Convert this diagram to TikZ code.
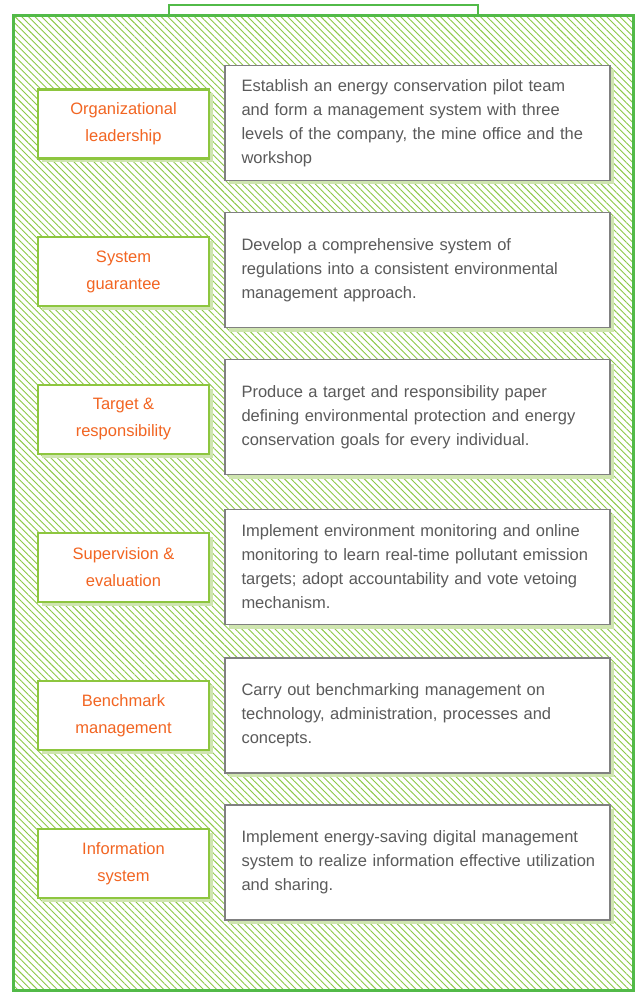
\documentclass[tikz,border=0pt]{standalone}
\usepackage{fontspec}
\setmainfont{Liberation Sans}
\usetikzlibrary{patterns.meta,shadows}
\definecolor{framegreen}{RGB}{82,186,72}
\definecolor{leafgreen}{RGB}{141,198,63}
\definecolor{hatchgreen}{RGB}{140,200,70}
\definecolor{shadegreen}{RGB}{207,229,176}
\definecolor{headorange}{RGB}{242,101,34}
\definecolor{bodygray}{RGB}{90,90,90}
\definecolor{edgegray}{RGB}{128,128,128}
\newcommand{\oneline}[1]{\mbox{#1}}
\tikzset{
  shade/.style={drop shadow={shadow xshift=4pt,shadow yshift=-4pt,fill=shadegreen,opacity=1}},
  headbox/.style={shade,draw=leafgreen,line width=2.2pt,fill=white,minimum width=171pt,
    minimum height=69pt,align=center,text=headorange,font=\fontsize{16.5}{27}\selectfont},
  bodybox/.style={shade,draw=edgegray,line width=1.2pt,fill=white,minimum width=385pt,
    minimum height=115pt,text width=352pt,inner xsep=16.5pt,align=left,text=bodygray,
    font=\fontsize{16.5}{24}\selectfont}
}

\begin{document}
\begin{tikzpicture}[x=1pt,y=-1pt]
  \useasboundingbox (0,0) rectangle (638,992);
  \draw[framegreen,line width=2.5pt,fill=white] (169,5) rectangle (478,16);
  \draw[framegreen,line width=3pt,
    pattern={Lines[angle=-45,distance=4.7pt,line width=0.9pt]},pattern color=hatchgreen]
    (13,16) rectangle (633,990);

  \node[headbox] (L1) at (123.5,124) {Organizational\\leadership};
  \node[headbox] (L2) at (123.5,271.5) {System\\guarantee};
  \node[headbox] (L3) at (123.5,419.5) {Target \&\\responsibility};
  \node[headbox] (L4) at (123.5,567.5) {Supervision \&\\evaluation};
  \node[headbox] (L5) at (123.5,715.5) {Benchmark\\management};
  \node[headbox] (L6) at (123.5,863.5) {Information\\system};

  \node[bodybox] (D1) at (417.5,123) {\oneline{Establish an energy conservation pilot team}\\\oneline{and form a management system with three}\\\oneline{levels of the company, the mine office and the}\\workshop};
  \node[bodybox] (D2) at (417.5,270) {\oneline{Develop a comprehensive system of}\\\oneline{regulations into a consistent environmental}\\\oneline{management approach.}};
  \node[bodybox] (D3) at (417.5,417) {\oneline{Produce a target and responsibility paper}\\\oneline{defining environmental protection and energy}\\\oneline{conservation goals for every individual.}};
  \node[bodybox] (D4) at (417.5,567) {\oneline{Implement environment monitoring and online}\\\oneline{monitoring to learn real-time pollutant emission}\\\oneline{targets; adopt accountability and vote vetoing}\\mechanism.};
  \node[bodybox] (D5) at (417.5,715.5) {\oneline{Carry out benchmarking management on}\\\oneline{technology, administration, processes and}\\concepts.};
  \node[bodybox] (D6) at (417.5,862.5) {\oneline{Implement energy-saving digital management}\\\oneline{system to realize information effective utilization}\\\oneline{and sharing.}};
\end{tikzpicture}
\end{document}
